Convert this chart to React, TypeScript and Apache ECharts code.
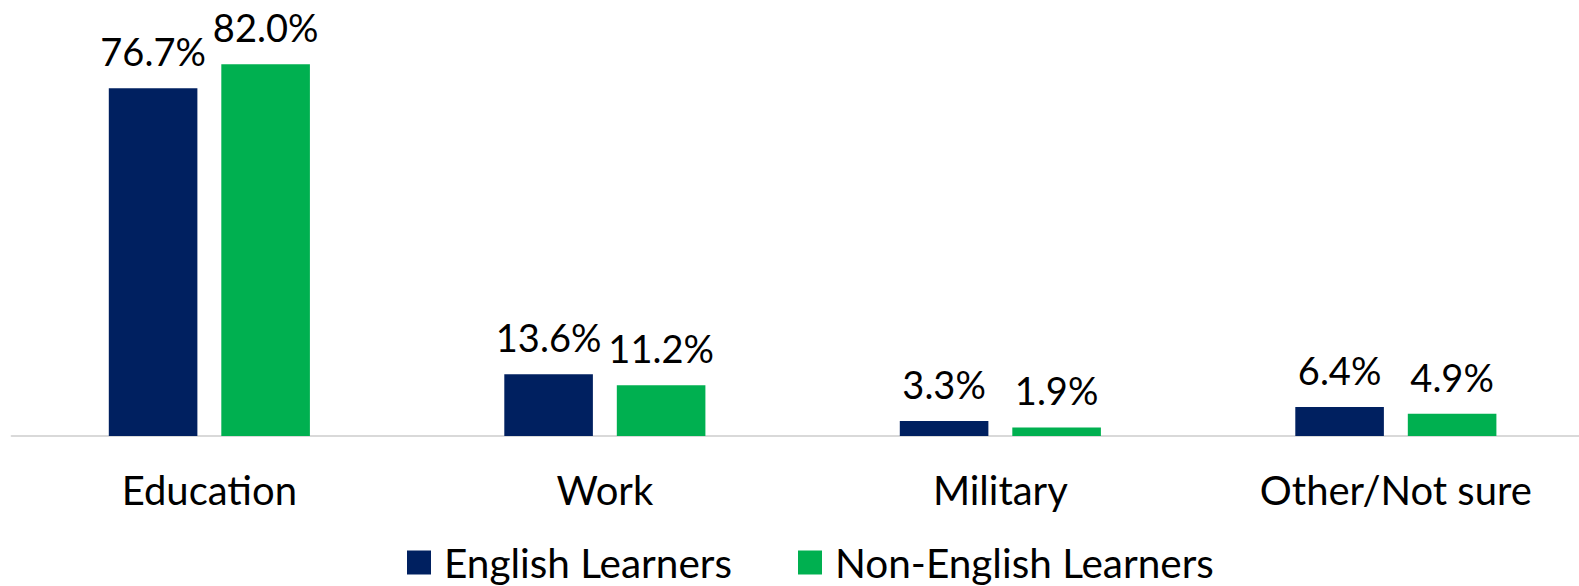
import React, { useEffect, useRef } from "react";
import * as echarts from "echarts";

const categories = ["Education", "Work", "Military", "Other/Not sure"];
const englishLearners = [76.7, 13.6, 3.3, 6.4];
const nonEnglishLearners = [82.0, 11.2, 1.9, 4.9];
const seriesNames = ["English Learners", "Non-English Learners"];

const FONT = "Lato, 'Noto Sans', sans-serif";

export default function App() {
  const ref = useRef<HTMLDivElement>(null);
  useEffect(() => {
    if (!ref.current) return;
    const chart = echarts.init(ref.current, undefined, { renderer: "svg" });
    const label = {
      show: true,
      position: "top",
      distance: 18,
      fontSize: 38,
      fontFamily: FONT,
      color: "#000",
      formatter: (p: any) => p.value.toFixed(1) + "%",
    };
    chart.setOption({
      animation: false,
      backgroundColor: "#fff",
      grid: {
        left: 11.6,
        width: 1582,
        top: 28,
        bottom: 150,
        containLabel: false,
        outerBoundsMode: "none",
      },
      legend: {
        top: 537,
        left: 402,
        itemWidth: 24,
        itemHeight: 24,
        itemGap: 66,
        icon: "rect",
        textStyle: {
          fontSize: 40.5,
          fontFamily: FONT,
          color: "#000",
          padding: [0, 0, 16, 8],
        },
        data: seriesNames,
      },
      xAxis: {
        type: "category",
        data: categories,
        axisLine: { show: true, lineStyle: { color: "#d9d9d9", width: 2 } },
        axisTick: { show: false },
        axisLabel: { fontSize: 40, fontFamily: FONT, color: "#000", margin: 34, interval: 0 },
      },
      yAxis: { type: "value", min: 0, max: 90, show: false, splitLine: { show: false } },
      series: [
        {
          name: seriesNames[0],
          type: "bar",
          data: englishLearners,
          barWidth: "22.4%",
          barGap: "27%",
          itemStyle: { color: "#002060" },
          label,
        },
        {
          name: seriesNames[1],
          type: "bar",
          data: nonEnglishLearners,
          barWidth: "22.4%",
          barGap: "27%",
          itemStyle: { color: "#00B050" },
          label,
        },
      ],
    });
    return () => chart.dispose();
  }, []);
  return (
    <div
      ref={ref}
      style={{ position: "absolute", left: 0, top: 0, width: 1579, height: 586 }}
    />
  );
}
